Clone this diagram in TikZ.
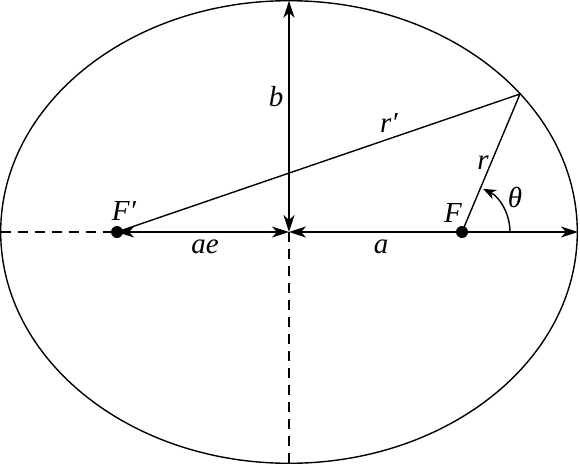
\documentclass[tikz,border=0pt]{standalone}
\usepackage{fontspec}
\setmainfont{Liberation Serif}
\usetikzlibrary{arrows.meta}
\begin{document}
\begin{tikzpicture}[x=1pt,y=-1pt,line width=1.4pt,
  tipa/.tip={Stealth[length=17pt,width=11pt,inset=5pt]},
  tipb/.tip={Stealth[length=13pt,width=10pt,inset=4pt]},
  arr/.style={-tipb},
  dbl/.style={tipa-tipa},
  lbl/.style={font=\fontsize{29}{32}\selectfont\itshape, inner sep=0pt},
  dot/.style={circle,fill=black,inner sep=0pt,minimum size=12pt}]
\useasboundingbox (0,0) rectangle (580,463);
\coordinate (O) at (289,232);
\coordinate (L) at (0.7,232);
\coordinate (R) at (578,232);
\coordinate (T) at (289,0.7);
\coordinate (B) at (289,463);
\coordinate (P) at (520,94);
\draw (O) ellipse [x radius=288.3, y radius=231.3];
\node[dot] (Fp) at (117,232) {};
\node[dot] (F) at (462,232) {};
\draw[dash pattern=on 10pt off 7pt] (L) -- (Fp.center);
\draw[dash pattern=on 10pt off 7pt] (O) -- (B);
\draw[dbl] (Fp.center) -- (O);
\draw[dbl] (O) -- (R);
\draw[dbl] (O) -- (T);
\draw (Fp.center) -- (P) -- (F.center);
\draw[arr] ([shift={(0:48)}]F.center) arc[start angle=0,end angle=-64,radius=48];
\node[lbl] (lb) at (276,97) {b};
\node[lbl] (lrp) at (389,123) {r′};
\node[lbl] (lr) at (483,163) {r};
\node[lbl] (lth) at (515,197) {θ};
\node[lbl] (lF) at (453,213) {F};
\node[lbl] (lFp) at (124,211) {F′};
\node[lbl] (lae) at (205,247) {ae};
\node[lbl] (la) at (381,247) {a};
\end{tikzpicture}
\end{document}
